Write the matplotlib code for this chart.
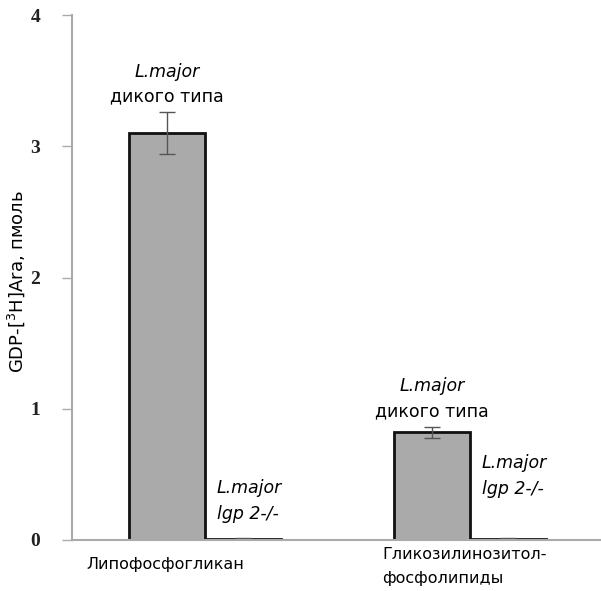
import numpy as np
import matplotlib.pyplot as plt

# data
groups = ["Липофосфогликан", "Гликозилинозитол-\nфосфолипиды"]
wild_vals = [3.10, 0.82]
wild_err = [0.16, 0.04]
mut_vals = [0.01, 0.01]
mut_err = [0.005, 0.005]
yticks = [0, 1, 2, 3, 4]

fig = plt.figure(figsize=(6.01, 5.91), dpi=100)
ax = fig.add_axes([0.1198, 0.0863, 0.8785, 0.888])

centers = np.array([1.33, 3.98])
w = 0.76
x_wild = centers - w / 2
x_mut = centers + w / 2

ax.bar(x_wild, wild_vals, width=w, color="#aaaaaa", edgecolor="#111111", linewidth=2,
       yerr=wild_err, error_kw=dict(ecolor="#555555", elinewidth=1, capsize=6, capthick=1))
ax.bar(x_mut, mut_vals, width=w, color="#aaaaaa", edgecolor="#111111", linewidth=2,
       yerr=mut_err, error_kw=dict(ecolor="#555555", elinewidth=1, capsize=6, capthick=1))

ax.set_xlim(0, 5.28)
ax.set_ylim(0, 4)
ax.set_yticks(yticks)
ax.set_yticklabels([str(t) for t in yticks], family="Liberation Serif", fontsize=14,
                   fontweight="bold", color="#222222")
ax.set_xticks([])

for s in ["top", "right"]:
    ax.spines[s].set_visible(False)
for s in ["left", "bottom"]:
    ax.spines[s].set_color("#aaaaaa")
    ax.spines[s].set_linewidth(1.5)
ax.tick_params(axis="y", direction="out", length=7, color="#aaaaaa", width=1, pad=16)

ax.set_ylabel("GDP-[$^3$H]Ara, пмоль", fontsize=13)
ax.yaxis.set_label_coords(-0.086, 0.493)

fs = 12.5
# wild type labels
for xc, v, e in zip(x_wild, wild_vals, wild_err):
    ax.text(xc, v + e + 0.31, "L.major", style="italic", ha="center", va="center", fontsize=fs)
    ax.text(xc, v + e + 0.12, "дикого типа", ha="center", va="center", fontsize=fs)

# mutant labels
mut_top = [0.39, 0.58]
for xc, v, t in zip(x_mut, mut_vals, mut_top):
    ax.text(xc - 0.26, v + t, "L.major", style="italic", ha="left", va="center", fontsize=fs)
    ax.text(xc - 0.26, v + t - 0.2, "lgp 2-/-", style="italic", ha="left", va="center", fontsize=fs)

# group labels
ax.text(x_wild[0] - 0.02, -0.19, groups[0], ha="center", va="center", fontsize=11.5)
ax.text(x_wild[1] - 0.5, -0.05, groups[1], ha="left", va="top", fontsize=11.5, linespacing=1.75)

fig.savefig("out.png", dpi=100)
